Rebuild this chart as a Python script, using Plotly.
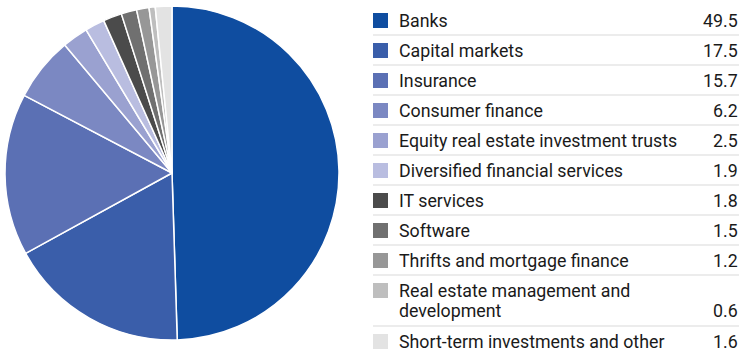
import plotly.graph_objects as go

categories = [
    "Banks",
    "Capital markets",
    "Insurance",
    "Consumer finance",
    "Equity real estate investment trusts",
    "Diversified financial services",
    "IT services",
    "Software",
    "Thrifts and mortgage finance",
    "Real estate management and<br>development",
    "Short-term investments and other",
]
values = [49.5, 17.5, 15.7, 6.2, 2.5, 1.9, 1.8, 1.5, 1.2, 0.6, 1.6]
value_labels = ["49.5", "17.5", "15.7", "6.2", "2.5", "1.9", "1.8", "1.5", "1.2", "0.6", "1.6"]
colors = [
    "#0f4da0", "#3a5eaa", "#5b70b4", "#7b88c2", "#9aa1d0", "#b9bde0",
    "#4b4b4b", "#707070", "#979797", "#bebebe", "#e3e3e3",
]

W, H = 740, 355
FONT = "Roboto, sans-serif"
FS = 17.8
TXT = "#1a1a1a"

def px(x):
    return x / W

def py(y):
    return 1 - y / H

fig = go.Figure()
fig.add_trace(go.Pie(
    labels=[c.replace("<br>", " ") for c in categories],
    values=values,
    sort=False,
    direction="clockwise",
    rotation=0,
    marker=dict(colors=colors, line=dict(color="white", width=1.5)),
    textinfo="none",
    hoverinfo="label+value",
    showlegend=False,
    domain=dict(x=[px(5), px(339)], y=[py(340), py(6)]),
))

shapes = []
annotations = []
row_top = 5
row_h = 30
line_h = 20
sq = 15
x_sq = 373
x_txt = 397
x_val = 740
y = row_top
for i, (cat, val) in enumerate(zip(categories, value_labels)):
    lines = cat.split("<br>")
    nlines = len(lines)
    h = row_h + (nlines - 1) * line_h + (1 if nlines > 1 else 0)
    first_c = y + 15.5
    shapes.append(dict(type="rect", xref="paper", yref="paper",
                       x0=px(x_sq), x1=px(x_sq + sq),
                       y0=py(first_c - sq / 2), y1=py(first_c + sq / 2),
                       fillcolor=colors[i], line=dict(width=0)))
    for j, ln in enumerate(lines):
        annotations.append(dict(xref="paper", yref="paper", x=px(x_txt), y=py(first_c + j * line_h),
                                text=ln, showarrow=False, xanchor="left", yanchor="middle",
                                font=dict(family=FONT, size=FS, color=TXT)))
    annotations.append(dict(xref="paper", yref="paper", x=px(x_val), y=py(first_c + (nlines - 1) * line_h),
                            text=val, showarrow=False, xanchor="right", yanchor="middle",
                            font=dict(family=FONT, size=FS, color=TXT)))
    y += h
    if i < len(categories) - 1:
        shapes.append(dict(type="line", xref="paper", yref="paper",
                           x0=px(x_sq), x1=px(739), y0=py(y), y1=py(y),
                           line=dict(color="#d9d9d9", width=1.2)))

fig.update_layout(
    width=W, height=H,
    margin=dict(l=0, r=0, t=0, b=0),
    paper_bgcolor="white",
    plot_bgcolor="white",
    shapes=shapes,
    annotations=annotations,
)

fig.write_html("out.html", config={"displayModeBar": False},
               post_script="document.body.style.margin='0';document.body.style.overflow='hidden';")
